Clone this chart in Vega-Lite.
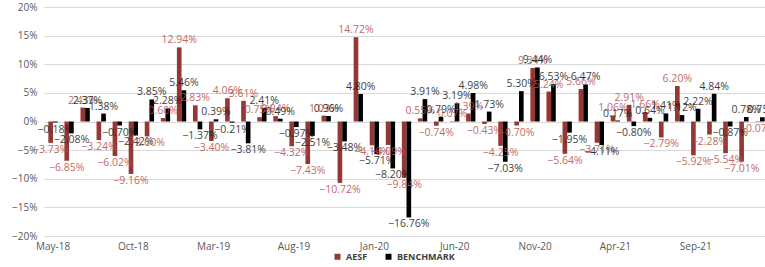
{
  "$schema": "https://vega.github.io/schema/vega-lite/v6.json",
  "width": 725,
  "height": 229,
  "padding": {"left": 11, "top": 2, "right": 0, "bottom": 0},
  "background": "white",
  "config": {
    "font": "Open Sans",
    "view": {"stroke": null}
  },
  "data": {
    "values": [
      {"m": "May-18", "s": "AESF", "v": -0.0373}, {"m": "May-18", "s": "BENCHMARK", "v": -0.0018},
      {"m": "Jun-18", "s": "AESF", "v": -0.0685}, {"m": "Jun-18", "s": "BENCHMARK", "v": -0.0208},
      {"m": "Jul-18", "s": "AESF", "v": 0.0243}, {"m": "Jul-18", "s": "BENCHMARK", "v": 0.0237},
      {"m": "Aug-18", "s": "AESF", "v": -0.0324}, {"m": "Aug-18", "s": "BENCHMARK", "v": 0.0138},
      {"m": "Sep-18", "s": "AESF", "v": -0.0602}, {"m": "Sep-18", "s": "BENCHMARK", "v": -0.0070},
      {"m": "Oct-18", "s": "AESF", "v": -0.0916}, {"m": "Oct-18", "s": "BENCHMARK", "v": -0.0242},
      {"m": "Nov-18", "s": "AESF", "v": -0.0260}, {"m": "Nov-18", "s": "BENCHMARK", "v": 0.0385},
      {"m": "Dec-18", "s": "AESF", "v": 0.0060}, {"m": "Dec-18", "s": "BENCHMARK", "v": 0.0228},
      {"m": "Jan-19", "s": "AESF", "v": 0.1294}, {"m": "Jan-19", "s": "BENCHMARK", "v": 0.0546},
      {"m": "Feb-19", "s": "AESF", "v": 0.0283}, {"m": "Feb-19", "s": "BENCHMARK", "v": -0.0137},
      {"m": "Mar-19", "s": "AESF", "v": -0.0340}, {"m": "Mar-19", "s": "BENCHMARK", "v": 0.0039},
      {"m": "Apr-19", "s": "AESF", "v": 0.0406}, {"m": "Apr-19", "s": "BENCHMARK", "v": -0.0021},
      {"m": "May-19", "s": "AESF", "v": 0.0361}, {"m": "May-19", "s": "BENCHMARK", "v": -0.0381},
      {"m": "Jun-19", "s": "AESF", "v": 0.0075}, {"m": "Jun-19", "s": "BENCHMARK", "v": 0.0241},
      {"m": "Jul-19", "s": "AESF", "v": 0.0094}, {"m": "Jul-19", "s": "BENCHMARK", "v": 0.0049},
      {"m": "Aug-19", "s": "AESF", "v": -0.0432}, {"m": "Aug-19", "s": "BENCHMARK", "v": -0.0097},
      {"m": "Sep-19", "s": "AESF", "v": -0.0743}, {"m": "Sep-19", "s": "BENCHMARK", "v": -0.0251},
      {"m": "Oct-19", "s": "AESF", "v": 0.0103}, {"m": "Oct-19", "s": "BENCHMARK", "v": 0.0096},
      {"m": "Nov-19", "s": "AESF", "v": -0.1072}, {"m": "Nov-19", "s": "BENCHMARK", "v": -0.0348},
      {"m": "Dec-19", "s": "AESF", "v": 0.1472}, {"m": "Dec-19", "s": "BENCHMARK", "v": 0.0480},
      {"m": "Jan-20", "s": "AESF", "v": -0.0416}, {"m": "Jan-20", "s": "BENCHMARK", "v": -0.0571},
      {"m": "Feb-20", "s": "AESF", "v": -0.0409}, {"m": "Feb-20", "s": "BENCHMARK", "v": -0.0820},
      {"m": "Mar-20", "s": "AESF", "v": -0.0984}, {"m": "Mar-20", "s": "BENCHMARK", "v": -0.1676},
      {"m": "Apr-20", "s": "AESF", "v": 0.0055}, {"m": "Apr-20", "s": "BENCHMARK", "v": 0.0391},
      {"m": "May-20", "s": "AESF", "v": -0.0074}, {"m": "May-20", "s": "BENCHMARK", "v": 0.0079},
      {"m": "Jun-20", "s": "AESF", "v": 0.0007}, {"m": "Jun-20", "s": "BENCHMARK", "v": 0.0319},
      {"m": "Jul-20", "s": "AESF", "v": 0.0139}, {"m": "Jul-20", "s": "BENCHMARK", "v": 0.0498},
      {"m": "Aug-20", "s": "AESF", "v": -0.0043}, {"m": "Aug-20", "s": "BENCHMARK", "v": 0.0173},
      {"m": "Sep-20", "s": "AESF", "v": -0.0425}, {"m": "Sep-20", "s": "BENCHMARK", "v": -0.0703},
      {"m": "Oct-20", "s": "AESF", "v": -0.0070}, {"m": "Oct-20", "s": "BENCHMARK", "v": 0.0530},
      {"m": "Nov-20", "s": "AESF", "v": 0.0934}, {"m": "Nov-20", "s": "BENCHMARK", "v": 0.0944},
      {"m": "Dec-20", "s": "AESF", "v": 0.0524}, {"m": "Dec-20", "s": "BENCHMARK", "v": 0.0653},
      {"m": "Jan-21", "s": "AESF", "v": -0.0564}, {"m": "Jan-21", "s": "BENCHMARK", "v": -0.0195},
      {"m": "Feb-21", "s": "AESF", "v": 0.0566}, {"m": "Feb-21", "s": "BENCHMARK", "v": 0.0647},
      {"m": "Mar-21", "s": "AESF", "v": -0.0371}, {"m": "Mar-21", "s": "BENCHMARK", "v": -0.0411},
      {"m": "Apr-21", "s": "AESF", "v": 0.0106}, {"m": "Apr-21", "s": "BENCHMARK", "v": 0.0017},
      {"m": "May-21", "s": "AESF", "v": 0.0291}, {"m": "May-21", "s": "BENCHMARK", "v": -0.0080},
      {"m": "Jun-21", "s": "AESF", "v": 0.0166}, {"m": "Jun-21", "s": "BENCHMARK", "v": 0.0064},
      {"m": "Jul-21", "s": "AESF", "v": -0.0279}, {"m": "Jul-21", "s": "BENCHMARK", "v": 0.0141},
      {"m": "Aug-21", "s": "AESF", "v": 0.0620}, {"m": "Aug-21", "s": "BENCHMARK", "v": 0.0112},
      {"m": "Sep-21", "s": "AESF", "v": -0.0592}, {"m": "Sep-21", "s": "BENCHMARK", "v": 0.0222},
      {"m": "Oct-21", "s": "AESF", "v": -0.0228}, {"m": "Oct-21", "s": "BENCHMARK", "v": 0.0484},
      {"m": "Nov-21", "s": "AESF", "v": -0.0554}, {"m": "Nov-21", "s": "BENCHMARK", "v": -0.0087},
      {"m": "Dec-21", "s": "AESF", "v": -0.0701}, {"m": "Dec-21", "s": "BENCHMARK", "v": 0.0078},
      {"m": "Jan-22", "s": "AESF", "v": -0.0007}, {"m": "Jan-22", "s": "BENCHMARK", "v": 0.0075}
    ]
  },
  "encoding": {
    "x": {
      "field": "m",
      "type": "ordinal",
      "sort": null,
      "scale": {"paddingInner": 0.42, "paddingOuter": 0.27},
      "axis": {
        "title": null,
        "labelAngle": 0,
        "ticks": false,
        "domain": false,
        "labelFontSize": 10,
        "labelColor": "#595959",
        "labelPadding": 5,
        "labelExpr": "indexof(['May-18','Oct-18','Mar-19','Aug-19','Jan-20','Jun-20','Nov-20','Apr-21','Sep-21'], datum.value) >= 0 ? datum.value : ''"
      }
    },
    "xOffset": {"field": "s", "type": "nominal", "sort": ["AESF", "BENCHMARK"], "scale": {"paddingInner": 0}},
    "y": {
      "field": "v",
      "type": "quantitative",
      "scale": {"domain": [-0.2, 0.2], "nice": false},
      "axis": {
        "title": null,
        "values": [-0.2, -0.15, -0.1, -0.05, 0, 0.05, 0.1, 0.15, 0.2],
        "format": ".0%",
        "ticks": false,
        "domain": false,
        "labelFontSize": 10,
        "labelColor": "#595959",
        "labelPadding": 7,
        "gridColor": "#D9D9D9",
        "gridWidth": 1
      }
    }
  },
  "layer": [
    {
      "mark": {"type": "bar"},
      "encoding": {
        "color": {
          "field": "s",
          "type": "nominal",
          "scale": {"domain": ["AESF", "BENCHMARK"], "range": ["#953735", "#000000"]},
          "legend": {
            "title": null,
            "orient": "none",
            "legendX": 289,
            "legendY": 245,
            "direction": "horizontal",
            "symbolType": "square",
            "symbolSize": 36,
            "labelFontSize": 9,
            "labelFontWeight": "bold",
            "labelColor": "#404040",
            "columnPadding": 16,
            "padding": 0
          }
        }
      }
    },
    {
      "transform": [{"filter": "datum.v >= 0"}],
      "mark": {"type": "text", "baseline": "bottom", "dy": -2, "fontSize": 10.5, "opacity": 0.85},
      "encoding": {
        "text": {"field": "v", "type": "quantitative", "format": ".2%"},
        "color": {
          "field": "s",
          "type": "nominal",
          "scale": {"domain": ["AESF", "BENCHMARK"], "range": ["#B8504D", "#1a1a1a"]},
          "legend": null
        }
      }
    },
    {
      "transform": [{"filter": "datum.v < 0"}],
      "mark": {"type": "text", "baseline": "top", "dy": 2, "fontSize": 10.5, "opacity": 0.85},
      "encoding": {
        "text": {"field": "v", "type": "quantitative", "format": ".2%"},
        "color": {
          "field": "s",
          "type": "nominal",
          "scale": {"domain": ["AESF", "BENCHMARK"], "range": ["#B8504D", "#1a1a1a"]},
          "legend": null
        }
      }
    }
  ],
  "resolve": {"scale": {"color": "independent"}}
}
